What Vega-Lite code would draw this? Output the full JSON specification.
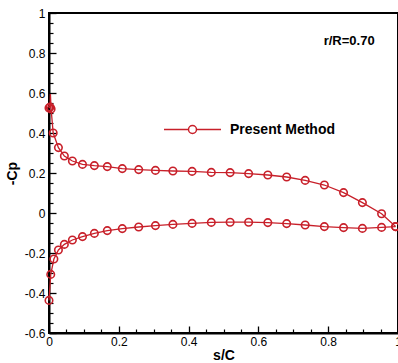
{
  "$schema": "https://vega.github.io/schema/vega-lite/v6.json",
  "width": 349,
  "height": 320,
  "autosize": {"type": "none"},
  "padding": {"left": 49, "top": 13, "right": 0, "bottom": 30},
  "config": {
    "view": {"stroke": "#000", "strokeWidth": 2},
    "font": "Liberation Sans",
    "axis": {"grid": false}
  },
  "resolve": {"axis": {"x": "independent", "y": "independent"}},
  "datasets": {
    "cp": [
      {"surface": "upper", "sc": 0.000, "cp": 0.525, "sym": true},
      {"surface": "upper", "sc": 0.003, "cp": 0.530, "sym": true},
      {"surface": "upper", "sc": 0.004, "cp": 0.595, "sym": false},
      {"surface": "upper", "sc": 0.006, "cp": 0.520, "sym": true},
      {"surface": "upper", "sc": 0.012, "cp": 0.400, "sym": true},
      {"surface": "upper", "sc": 0.027, "cp": 0.327, "sym": true},
      {"surface": "upper", "sc": 0.044, "cp": 0.285, "sym": true},
      {"surface": "upper", "sc": 0.067, "cp": 0.260, "sym": true},
      {"surface": "upper", "sc": 0.096, "cp": 0.243, "sym": true},
      {"surface": "upper", "sc": 0.130, "cp": 0.237, "sym": true},
      {"surface": "upper", "sc": 0.167, "cp": 0.232, "sym": true},
      {"surface": "upper", "sc": 0.210, "cp": 0.222, "sym": true},
      {"surface": "upper", "sc": 0.257, "cp": 0.217, "sym": true},
      {"surface": "upper", "sc": 0.305, "cp": 0.213, "sym": true},
      {"surface": "upper", "sc": 0.355, "cp": 0.210, "sym": true},
      {"surface": "upper", "sc": 0.410, "cp": 0.208, "sym": true},
      {"surface": "upper", "sc": 0.465, "cp": 0.203, "sym": true},
      {"surface": "upper", "sc": 0.519, "cp": 0.202, "sym": true},
      {"surface": "upper", "sc": 0.572, "cp": 0.197, "sym": true},
      {"surface": "upper", "sc": 0.627, "cp": 0.190, "sym": true},
      {"surface": "upper", "sc": 0.681, "cp": 0.180, "sym": true},
      {"surface": "upper", "sc": 0.734, "cp": 0.163, "sym": true},
      {"surface": "upper", "sc": 0.789, "cp": 0.140, "sym": true},
      {"surface": "upper", "sc": 0.844, "cp": 0.102, "sym": true},
      {"surface": "upper", "sc": 0.898, "cp": 0.052, "sym": true},
      {"surface": "upper", "sc": 0.953, "cp": -0.004, "sym": true},
      {"surface": "upper", "sc": 0.993, "cp": -0.068, "sym": true},
      {"surface": "lower", "sc": 0.000, "cp": -0.437, "sym": true},
      {"surface": "lower", "sc": 0.005, "cp": -0.307, "sym": true},
      {"surface": "lower", "sc": 0.014, "cp": -0.230, "sym": true},
      {"surface": "lower", "sc": 0.027, "cp": -0.185, "sym": true},
      {"surface": "lower", "sc": 0.044, "cp": -0.157, "sym": true},
      {"surface": "lower", "sc": 0.067, "cp": -0.135, "sym": true},
      {"surface": "lower", "sc": 0.096, "cp": -0.118, "sym": true},
      {"surface": "lower", "sc": 0.130, "cp": -0.102, "sym": true},
      {"surface": "lower", "sc": 0.167, "cp": -0.088, "sym": true},
      {"surface": "lower", "sc": 0.210, "cp": -0.078, "sym": true},
      {"surface": "lower", "sc": 0.257, "cp": -0.070, "sym": true},
      {"surface": "lower", "sc": 0.305, "cp": -0.063, "sym": true},
      {"surface": "lower", "sc": 0.355, "cp": -0.057, "sym": true},
      {"surface": "lower", "sc": 0.410, "cp": -0.052, "sym": true},
      {"surface": "lower", "sc": 0.465, "cp": -0.047, "sym": true},
      {"surface": "lower", "sc": 0.519, "cp": -0.046, "sym": true},
      {"surface": "lower", "sc": 0.572, "cp": -0.046, "sym": true},
      {"surface": "lower", "sc": 0.627, "cp": -0.048, "sym": true},
      {"surface": "lower", "sc": 0.681, "cp": -0.053, "sym": true},
      {"surface": "lower", "sc": 0.734, "cp": -0.060, "sym": true},
      {"surface": "lower", "sc": 0.789, "cp": -0.068, "sym": true},
      {"surface": "lower", "sc": 0.844, "cp": -0.073, "sym": true},
      {"surface": "lower", "sc": 0.898, "cp": -0.077, "sym": true},
      {"surface": "lower", "sc": 0.953, "cp": -0.072, "sym": true},
      {"surface": "lower", "sc": 0.993, "cp": -0.068, "sym": true}
    ],
    "notes": [
      {"label": "r/R=0.70", "sc": 0.86, "cp": 0.862}
    ]
  },
  "layer": [
    {
      "data": {"name": "cp"},
      "mark": {"type": "line", "color": "#c8202a", "strokeWidth": 1.3, "clip": false},
      "encoding": {
        "x": {
          "field": "sc", "type": "quantitative",
          "scale": {"domain": [0, 1], "nice": false, "zero": false},
          "axis": {
            "orient": "bottom",
            "title": "s/C",
            "titleFont": "Liberation Sans", "titleFontSize": 14, "titleFontWeight": "bold", "titleColor": "#000",
            "titlePadding": 1,
            "values": [0, 0.2, 0.4, 0.6, 0.8, 1],
            "labelExpr": "'' + datum.value",
            "labelFont": "Liberation Sans", "labelFontSize": 12, "labelColor": "#000",
            "labelPadding": 10, "labelFlush": false, "labelOverlap": false, "labelBound": false,
            "domainColor": "#000", "domainWidth": 2,
            "tickColor": "#000", "tickWidth": 1.3, "tickSize": -7
          }
        },
        "y": {
          "field": "cp", "type": "quantitative",
          "scale": {"domain": [-0.6, 1], "nice": false, "zero": false},
          "axis": {
            "orient": "left",
            "title": "-Cp",
            "titleFont": "Liberation Sans", "titleFontSize": 14, "titleFontWeight": "bold", "titleColor": "#000",
            "titlePadding": 5,
            "values": [-0.6, -0.4, -0.2, 0, 0.2, 0.4, 0.6, 0.8, 1],
            "labelExpr": "'' + datum.value",
            "labelFont": "Liberation Sans", "labelFontSize": 12, "labelColor": "#000",
            "labelPadding": 11, "labelFlush": false, "labelOverlap": false, "labelBound": false,
            "domainColor": "#000", "domainWidth": 2,
            "tickColor": "#000", "tickWidth": 1.3, "tickSize": -7
          }
        },
        "detail": {"field": "surface"},
        "order": {"field": "sc"}
      }
    },
    {
      "data": {"name": "cp"},
      "transform": [{"filter": "datum.sym"}],
      "mark": {"type": "point", "filled": false, "strokeWidth": 1.6, "size": 56, "opacity": 1, "clip": false},
      "encoding": {
        "x": {
          "field": "sc", "type": "quantitative",
          "axis": {
            "orient": "bottom", "title": null, "labels": false, "domain": false,
            "values": [0.05,0.1,0.15,0.25,0.3,0.35,0.45,0.5,0.55,0.65,0.7,0.75,0.85,0.9,0.95],
            "tickColor": "#000", "tickWidth": 1.2, "tickSize": -4
          }
        },
        "y": {
          "field": "cp", "type": "quantitative",
          "axis": {
            "orient": "left", "title": null, "labels": false, "domain": false,
            "values": [-0.55,-0.5,-0.45,-0.35,-0.3,-0.25,-0.15,-0.1,-0.05,0.05,0.1,0.15,0.25,0.3,0.35,0.45,0.5,0.55,0.65,0.7,0.75,0.85,0.9,0.95],
            "tickColor": "#000", "tickWidth": 1.2, "tickSize": -4
          }
        },
        "color": {
          "datum": "Present Method",
          "scale": {"range": ["#c8202a"]},
          "legend": {
            "title": null,
            "orient": "none",
            "legendX": 114,
            "legendY": 87,
            "padding": 0,
            "symbolType": "M-1,0L-0.14,0M0.14,0L1,0M-0.14,0A0.14,0.14 0 1,0 0.14,0A0.14,0.14 0 1,0 -0.14,0",
            "symbolSize": 3249,
            "symbolStrokeWidth": 1.5,
            "symbolFillColor": "transparent",
            "symbolStrokeColor": "#c8202a",
            "labelFont": "Liberation Sans",
            "labelFontSize": 14,
            "labelFontWeight": "bold",
            "labelColor": "#000",
            "labelOffset": 8
          }
        }
      }
    },
    {
      "data": {"name": "notes"},
      "mark": {"type": "text", "font": "Liberation Sans", "fontSize": 13, "fontWeight": "bold", "color": "#000", "align": "center", "baseline": "middle"},
      "encoding": {
        "x": {"field": "sc", "type": "quantitative", "axis": null},
        "y": {"field": "cp", "type": "quantitative", "axis": null},
        "text": {"field": "label"}
      }
    }
  ]
}
